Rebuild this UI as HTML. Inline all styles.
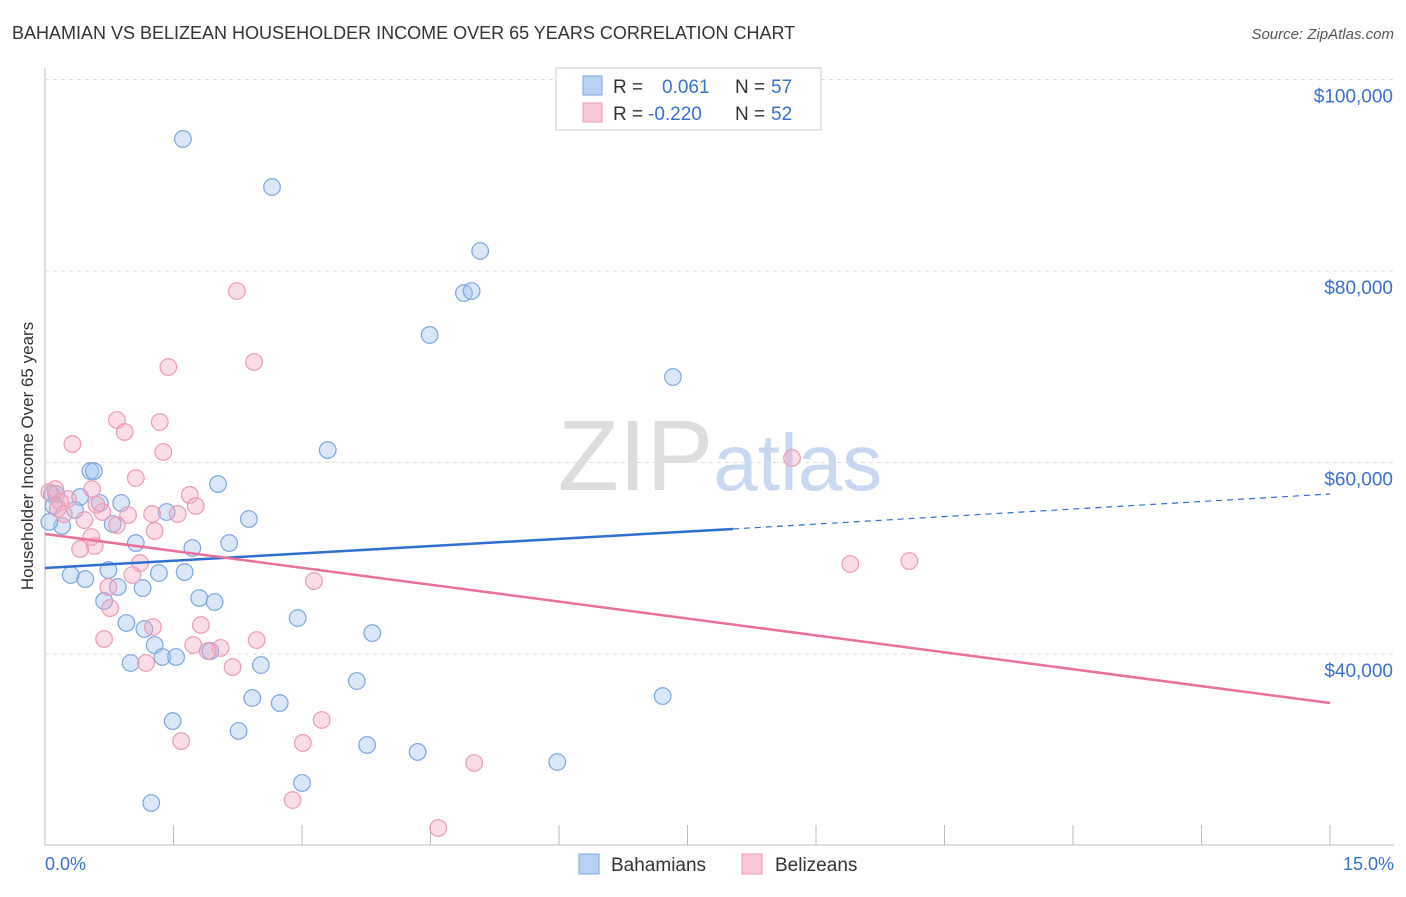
<!DOCTYPE html>
<html><head><meta charset="utf-8"><style>
body{margin:0;background:#fff;font-family:"Liberation Sans",sans-serif;}
svg text{font-family:"Liberation Sans",sans-serif;}
</style></head><body>
<svg id="chart" width="1406" height="892" xmlns="http://www.w3.org/2000/svg">
<text x="12" y="39" font-size="18" fill="#333">BAHAMIAN VS BELIZEAN HOUSEHOLDER INCOME OVER 65 YEARS CORRELATION CHART</text>
<text x="1394" y="39" font-size="15" fill="#555" text-anchor="end" font-style="italic">Source: ZipAtlas.com</text>
<text transform="translate(33,456) rotate(-90)" font-size="17" fill="#333" text-anchor="middle">Householder Income Over 65 years</text>
<text x="720" y="490" font-size="100" fill="#ddd" text-anchor="middle" font-family="Liberation Serif">ZIP<tspan fill="#c8d8f0" font-family="Liberation Sans" font-size="80">atlas</tspan></text>
<g id="grid"></g><g id="pts"></g><g id="lines"></g>
<g>
<rect x="556" y="68" width="265" height="62" fill="#fff" stroke="#ccc"/>
<rect x="583" y="76" width="19" height="19" fill="#b8d2f4" stroke="#7aa6e0"/>
<rect x="583" y="103" width="19" height="19" fill="#f8c8d8" stroke="#ec9ab6"/>
<text x="613" y="93" font-size="19" fill="#333">R =</text>
<text x="662" y="93" font-size="19" fill="#3a70d0">0.061</text>
<text x="735" y="93" font-size="19" fill="#333">N =</text>
<text x="771" y="93" font-size="19" fill="#3a70d0">57</text>
<text x="613" y="120" font-size="19" fill="#333">R =</text>
<text x="648" y="120" font-size="19" fill="#3a70d0">-0.220</text>
<text x="735" y="120" font-size="19" fill="#333">N =</text>
<text x="771" y="120" font-size="19" fill="#3a70d0">52</text>
</g>
<g>
<rect x="579" y="854" width="20" height="20" fill="#b8d2f4" stroke="#7aa6e0"/>
<text x="611" y="871" font-size="19" fill="#333">Bahamians</text>
<rect x="742" y="854" width="20" height="20" fill="#f8c8d8" stroke="#ec9ab6"/>
<text x="775" y="871" font-size="19" fill="#333">Belizeans</text>
</g>
<text x="45" y="870" font-size="18" fill="#3a70d0">0.0%</text>
<text x="1394" y="870" font-size="18" fill="#3a70d0" text-anchor="end">15.0%</text>
</svg>
<script>
const yTicks=[40000,60000,80000,100000];
const yTickLabels=["$40,000","$60,000","$80,000","$100,000"];
const xTicks=[0,1.5,3,4.5,6,7.5,9,10.5,12,13.5,15];
const bahX=[1.61,2.65,5.08,4.89,4.98,4.49,7.33,3.30,0.53,0.57,2.02,0.08,0.13,0.41,0.64,0.89,0.35,1.42,2.38,0.20,0.79,1.06,2.15,1.72,0.30,0.47,0.74,1.33,1.63,0.85,1.14,0.69,1.80,1.98,2.95,0.95,1.16,3.82,1.28,1.93,1.37,1.53,1.00,2.52,3.64,2.42,2.74,7.21,1.49,2.26,3.76,4.35,5.98,3.00,1.24,0.05,0.10];
const bahY=[93790,88770,82090,77700,77910,73320,68930,61300,59110,59110,57750,56710,56710,56400,55770,55770,55040,54830,54100,53370,53580,51590,51590,51070,48250,47830,48770,48460,48560,47000,46890,45540,45850,45430,43760,43240,42610,42190,40940,40310,39690,39690,39060,38850,37180,35400,34880,35610,33000,31960,30500,29770,28720,26530,24440,53800,55500];
const belX=[2.24,2.44,1.44,0.84,1.34,0.93,0.32,1.38,8.72,1.06,0.55,0.12,1.69,0.18,0.27,1.76,0.67,1.25,1.55,0.97,0.46,0.84,1.28,0.54,0.58,0.41,1.11,9.40,10.09,1.02,0.74,3.14,0.76,1.82,1.26,0.69,2.47,1.73,2.05,1.90,2.19,1.18,3.23,1.59,3.01,5.01,2.89,4.59,0.05,0.15,0.22,0.60];
const belY=[77910,70500,69970,64440,64230,63190,61930,61100,60470,58380,57230,57230,56610,55870,56190,55460,54830,54620,54620,54520,53990,53470,52850,52220,51280,50970,49500,49400,49710,48250,47000,47620,44800,43030,42820,41570,41460,40940,40630,40310,38640,39060,33110,30910,30710,28620,24750,21830,56900,55200,54600,55600];
const bahTrend=[[0,48980],[8.03,53060],[15,56710]];
const belTrend=[[0,52530],[15,34880]];
const X=v=>45+v/15*1285, Y=v=>654-(v-40000)*191.5/20000;
const NS="http://www.w3.org/2000/svg";
function mk(t,a,p){const e=document.createElementNS(NS,t);for(const k in a)e.setAttribute(k,a[k]);p.appendChild(e);return e;}
const g=document.getElementById('grid');
const ax=mk('line',{x1:45,y1:68,x2:45,y2:845,stroke:'#bbb'},g);

const bx=mk('line',{x1:45,y1:845,x2:1394,y2:845,stroke:'#bbb'},g);

yTicks.forEach((t,i)=>{const l=mk('line',{x1:45,x2:1394,y1:Y(t),y2:Y(t),stroke:'#ddd','stroke-dasharray':'4,4'},g);

const tx=mk('text',{x:1393,y:Y(t)+23,'font-size':19,fill:'#3a70d0','text-anchor':'end'},g);tx.textContent=yTickLabels[i];
});
xTicks.forEach(t=>{const l=mk('line',{x1:X(t),x2:X(t),y1:825,y2:845,stroke:'#bbb'},g);
});
const p=document.getElementById('pts');
bahX.forEach((x,i)=>{const c=mk('circle',{cx:X(x),cy:Y(bahY[i]),r:8.3,fill:'rgba(160,195,240,0.4)',stroke:'#7aa6e0','stroke-width':1.2},p);
});
belX.forEach((x,i)=>{const c=mk('circle',{cx:X(x),cy:Y(belY[i]),r:8.3,fill:'rgba(245,170,195,0.4)',stroke:'#ec9ab6','stroke-width':1.2},p);
});
const L=document.getElementById('lines');
const b1=mk('line',{x1:X(bahTrend[0][0]),y1:Y(bahTrend[0][1]),x2:X(bahTrend[1][0]),y2:Y(bahTrend[1][1]),stroke:'#2f6fd0','stroke-width':2.5},L);

const b2=mk('line',{x1:X(bahTrend[1][0]),y1:Y(bahTrend[1][1]),x2:X(bahTrend[2][0]),y2:Y(bahTrend[2][1]),stroke:'#2f6fd0','stroke-width':1.2,'stroke-dasharray':'6,5'},L);

const p1=mk('line',{x1:X(belTrend[0][0]),y1:Y(belTrend[0][1]),x2:X(belTrend[1][0]),y2:Y(belTrend[1][1]),stroke:'#e8709a','stroke-width':2.5},L);

</script>
</body></html>
